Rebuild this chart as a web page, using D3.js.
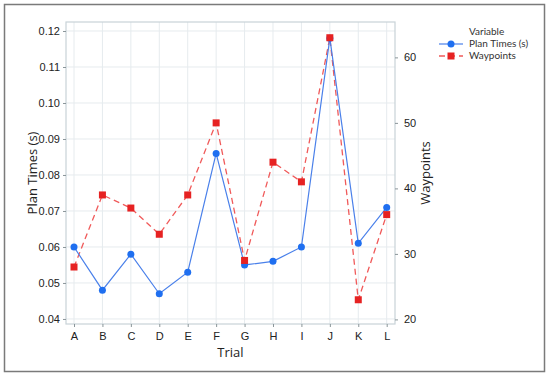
<!DOCTYPE html>
<html>
<head>
<meta charset="utf-8">
<script src="https://cdn.jsdelivr.net/npm/d3@7"></script>
<style>
  body { margin: 0; background: #fff; }
  svg { font-family: "Open Sans", "Noto Sans", sans-serif; }
</style>
</head>
<body>
<svg id="chart" width="550" height="377"></svg>
<script>
// data
var trials = ['A', 'B', 'C', 'D', 'E', 'F', 'G', 'H', 'I', 'J', 'K', 'L'];
var planTimes = [0.060, 0.048, 0.058, 0.047, 0.053, 0.086, 0.055, 0.056, 0.060, 0.118, 0.061, 0.071];
var waypoints = [28, 39, 37, 33, 39, 50, 29, 44, 41, 63, 23, 36];
var leftTicks = [0.04, 0.05, 0.06, 0.07, 0.08, 0.09, 0.10, 0.11, 0.12];
var rightTicks = [20, 30, 40, 50, 60];
var legendLabels = ['Plan Times (s)', 'Waypoints'];

var svg = d3.select('#chart');
var plot = {left: 66, top: 22, right: 395, bottom: 324};
var blue = '#1f6ff0', red = '#e62222';

// outer frame
svg.append('rect')
  .attr('x', 4.5).attr('y', 4.5).attr('width', 540).attr('height', 367)
  .attr('fill', 'none').attr('stroke', '#7a7a7a').attr('stroke-width', 1.5);

var x = d3.scalePoint().domain(trials).range([74, 386.7]);
var yL = d3.scaleLinear().domain([0.0386, 0.1225]).range([plot.bottom, plot.top]);
var yR = d3.scaleLinear().domain([19.3, 65.4]).range([plot.bottom, plot.top]);

// gridlines
var grid = svg.append('g').attr('stroke', '#e6ebee').attr('stroke-width', 1);
grid.selectAll('line.h').data(leftTicks).enter().append('line')
  .attr('x1', plot.left).attr('x2', plot.right)
  .attr('y1', function(d) { return yL(d); }).attr('y2', function(d) { return yL(d); });
grid.selectAll('line.v').data(trials).enter().append('line')
  .attr('y1', plot.top).attr('y2', plot.bottom)
  .attr('x1', function(d) { return x(d); }).attr('x2', function(d) { return x(d); });

// plot border
svg.append('rect')
  .attr('x', plot.left).attr('y', plot.top)
  .attr('width', plot.right - plot.left).attr('height', plot.bottom - plot.top)
  .attr('fill', 'none').attr('stroke', '#c9d3d8').attr('stroke-width', 1.2);

function styleAxis(g) {
  g.select('.domain').remove();
  g.selectAll('.tick line').attr('stroke', '#8a9599');
  g.selectAll('.tick text').attr('fill', '#222').style('font-size', '11px');
}

svg.append('g').attr('transform', 'translate(' + plot.left + ',0)')
  .call(d3.axisLeft(yL).tickValues(leftTicks).tickFormat(d3.format('.2f')).tickSize(3).tickPadding(3))
  .call(styleAxis);
svg.append('g').attr('transform', 'translate(' + plot.right + ',0)')
  .call(d3.axisRight(yR).tickValues(rightTicks).tickSize(3).tickPadding(6))
  .call(styleAxis);
svg.append('g').attr('transform', 'translate(0,' + plot.bottom + ')')
  .call(d3.axisBottom(x).tickSize(3).tickPadding(5))
  .call(styleAxis);

// axis titles
svg.append('text').attr('transform', 'translate(37,' + ((plot.top + plot.bottom) / 2) + ') rotate(-90)')
  .attr('text-anchor', 'middle').style('font-size', '13px').attr('fill', '#222').text('Plan Times (s)');
svg.append('text').attr('transform', 'translate(430,' + ((plot.top + plot.bottom) / 2) + ') rotate(-90)')
  .attr('text-anchor', 'middle').style('font-size', '13px').attr('fill', '#222').text('Waypoints');
svg.append('text').attr('x', (plot.left + plot.right) / 2).attr('y', 357)
  .attr('text-anchor', 'middle').style('font-size', '13px').attr('fill', '#222').text('Trial');

// waypoints series (dashed red)
var lineR = d3.line().x(function(d, i) { return x(trials[i]); }).y(function(d) { return yR(d); });
svg.append('path').datum(waypoints).attr('d', lineR)
  .attr('fill', 'none').attr('stroke', '#f05a5a').attr('stroke-width', 1.3).attr('stroke-dasharray', '6,4');

// plan times series (blue)
var lineL = d3.line().x(function(d, i) { return x(trials[i]); }).y(function(d) { return yL(d); });
svg.append('path').datum(planTimes).attr('d', lineL)
  .attr('fill', 'none').attr('stroke', '#4a80ea').attr('stroke-width', 1.2);

svg.selectAll('circle.pt').data(planTimes).enter().append('circle')
  .attr('cx', function(d, i) { return x(trials[i]); })
  .attr('cy', function(d) { return yL(d); })
  .attr('r', 3.5).attr('fill', blue);

svg.selectAll('rect.wp').data(waypoints).enter().append('rect')
  .attr('x', function(d, i) { return x(trials[i]) - 3.5; })
  .attr('y', function(d) { return yR(d) - 3.5; })
  .attr('width', 7).attr('height', 7).attr('fill', red);

// legend
var lg = svg.append('g').style('font-family', 'Lato, "Open Sans", sans-serif').style('font-size', '10px');
lg.append('text').attr('x', 469).attr('y', 35).attr('fill', '#333').text('Variable');
lg.append('line').attr('x1', 439).attr('x2', 463).attr('y1', 44).attr('y2', 44).attr('stroke', '#4a80ea').attr('stroke-width', 1.2);
lg.append('circle').attr('cx', 451).attr('cy', 44).attr('r', 3.5).attr('fill', blue);
lg.append('text').attr('x', 469).attr('y', 47).attr('fill', '#333').text(legendLabels[0]);
lg.append('line').attr('x1', 439).attr('x2', 463).attr('y1', 56).attr('y2', 56).attr('stroke', '#f05a5a').attr('stroke-width', 1.3).attr('stroke-dasharray', '6,4');
lg.append('rect').attr('x', 447.5).attr('y', 52.5).attr('width', 7).attr('height', 7).attr('fill', red);
lg.append('text').attr('x', 469).attr('y', 59).attr('fill', '#333').text(legendLabels[1]);
</script>
</body>
</html>
